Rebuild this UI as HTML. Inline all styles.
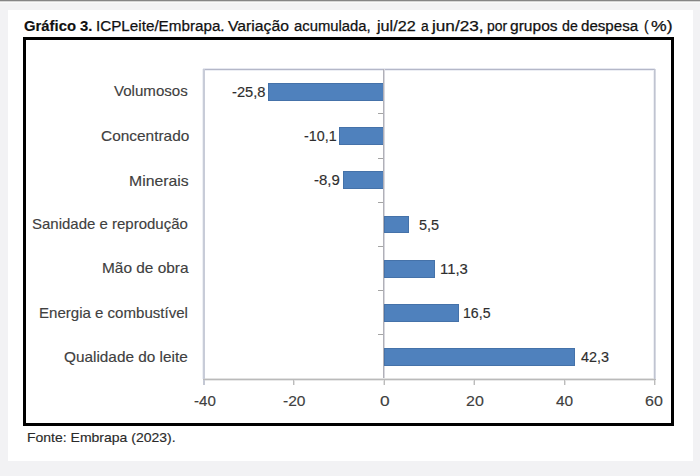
<!DOCTYPE html>
<html><head><meta charset="utf-8"><style>
html,body{margin:0;padding:0;}
body{width:700px;height:476px;position:relative;overflow:hidden;background:#f2f2f4;font-family:"Liberation Sans", sans-serif;}
div{position:absolute;white-space:pre;line-height:1;transform-origin:0 0;-webkit-text-stroke:0.15px currentColor;}
.bar{background:#4f81bd;box-sizing:border-box;border:1px solid #4572a9;}
.tk{background:#8a8a8a;}
</style></head><body>
<div style="left:0;top:0;width:700px;height:1px;background:#858585"></div>
<div style="left:0;top:1px;width:700px;height:1px;background:#d6d6d6"></div>
<div style="left:0;top:2px;width:700px;height:1px;background:#f9f9f9"></div>
<div style="left:8px;top:10px;width:685px;height:451px;background:#fff"></div>
<div style="left:23px;top:37px;width:651px;height:389px;border:3px solid #000;box-sizing:border-box"></div>

<div style="left:203px;top:68px;width:452px;height:1px;background:#e6e8f0"></div>
<div style="left:203px;top:69px;width:452px;height:1px;background:#b4b7c8"></div>
<div style="left:205px;top:70px;width:449px;height:1px;background:#eceef4"></div>
<div style="left:203px;top:69px;width:2px;height:310px;background:#c8ccd8"></div>
<div style="left:202px;top:69px;width:1px;height:310px;background:#eef0f4"></div>
<div style="left:654px;top:69px;width:1px;height:310px;background:#c0c4d0"></div>
<div style="left:655px;top:69px;width:1px;height:310px;background:#d6d9e2"></div>
<div style="left:653px;top:70px;width:1px;height:309px;background:#eef0f5"></div>

<div style="left:384px;top:69px;width:1px;height:310px;background:#d8d8de"></div>
<div class="bar" style="left:267.78px;top:82.95px;width:116.42px;height:17.8px"></div><div class="bar" style="left:338.62px;top:127.14px;width:45.58px;height:17.8px"></div><div class="bar" style="left:343.40px;top:171.33px;width:40.80px;height:17.8px"></div><div class="bar" style="left:384.20px;top:215.52px;width:24.82px;height:17.8px"></div><div class="bar" style="left:384.20px;top:259.71px;width:50.99px;height:17.8px"></div><div class="bar" style="left:384.20px;top:303.90px;width:74.46px;height:17.8px"></div><div class="bar" style="left:384.20px;top:348.09px;width:190.88px;height:17.8px"></div>

<div style="left:383px;top:69px;width:1px;height:310px;background:#b0b0b8"></div>
<div style="left:205px;top:378px;width:449px;height:1px;background:#e2e2e2"></div>
<div style="left:203px;top:379px;width:453px;height:1px;background:#bababa"></div>
<div style="left:205px;top:380px;width:449px;height:1px;background:#e8e8e8"></div>

<div style="left:293px;top:380px;width:1px;height:5px;background:#bcbcbc"></div><div style="left:294px;top:380px;width:1px;height:5px;background:#e2e2e2"></div><div style="left:384px;top:380px;width:1px;height:5px;background:#bcbcbc"></div><div style="left:383px;top:380px;width:1px;height:5px;background:#e2e2e2"></div><div style="left:474px;top:380px;width:1px;height:5px;background:#bcbcbc"></div><div style="left:473px;top:380px;width:1px;height:5px;background:#e2e2e2"></div><div style="left:564px;top:380px;width:1px;height:5px;background:#bcbcbc"></div><div style="left:565px;top:380px;width:1px;height:5px;background:#e2e2e2"></div><div style="left:654px;top:380px;width:1px;height:5px;background:#bcbcbc"></div><div style="left:655px;top:380px;width:1px;height:5px;background:#e2e2e2"></div><div style="left:203px;top:380px;width:2px;height:5px;background:#c4c8d4"></div><div style="left:378px;top:113px;width:5px;height:1px;background:#a4a4a4"></div><div style="left:378px;top:158px;width:5px;height:1px;background:#a4a4a4"></div><div style="left:378px;top:202px;width:5px;height:1px;background:#a4a4a4"></div><div style="left:378px;top:246px;width:5px;height:1px;background:#a4a4a4"></div><div style="left:378px;top:290px;width:5px;height:1px;background:#a4a4a4"></div><div style="left:378px;top:334px;width:5px;height:1px;background:#a4a4a4"></div>
<div style="position:absolute;left:23.81px;top:18.30px;font-size:15.3px;font-weight:700;color:#111;transform:scaleX(0.9702);">Gráfico 3.</div>
<div style="position:absolute;left:95.83px;top:18.30px;font-size:15.3px;font-weight:400;color:#111;transform:scaleX(0.9950);-webkit-text-stroke:0.25px #111;">ICPLeite/Embrapa.</div>
<div style="position:absolute;left:228.34px;top:18.30px;font-size:15.3px;font-weight:400;color:#111;transform:scaleX(1.0283);-webkit-text-stroke:0.25px #111;">Variação</div>
<div style="position:absolute;left:293.71px;top:18.30px;font-size:15.3px;font-weight:400;color:#111;transform:scaleX(0.9687);-webkit-text-stroke:0.25px #111;">acumulada,</div>
<div style="position:absolute;left:376.72px;top:18.30px;font-size:15.3px;font-weight:400;color:#111;transform:scaleX(1.0579);-webkit-text-stroke:0.25px #111;">jul/22</div>
<div style="position:absolute;left:420.72px;top:18.30px;font-size:15.3px;font-weight:400;color:#111;transform:scaleX(0.9000);-webkit-text-stroke:0.25px #111;">a</div>
<div style="position:absolute;left:432.04px;top:18.30px;font-size:15.3px;font-weight:400;color:#111;transform:scaleX(1.1220);-webkit-text-stroke:0.25px #111;">jun/23,</div>
<div style="position:absolute;left:486.72px;top:18.30px;font-size:15.3px;font-weight:400;color:#111;transform:scaleX(0.9131);-webkit-text-stroke:0.25px #111;">por</div>
<div style="position:absolute;left:510.08px;top:18.30px;font-size:15.3px;font-weight:400;color:#111;transform:scaleX(1.0177);-webkit-text-stroke:0.25px #111;">grupos</div>
<div style="position:absolute;left:561.93px;top:18.30px;font-size:15.3px;font-weight:400;color:#111;transform:scaleX(0.9265);-webkit-text-stroke:0.25px #111;">de</div>
<div style="position:absolute;left:581.20px;top:18.30px;font-size:15.3px;font-weight:400;color:#111;transform:scaleX(0.9874);-webkit-text-stroke:0.25px #111;">despesa</div>
<div style="position:absolute;left:643.53px;top:18.30px;font-size:15.3px;font-weight:400;color:#111;transform:scaleX(0.9000);-webkit-text-stroke:0.25px #111;">(</div>
<div style="position:absolute;left:651.09px;top:18.30px;font-size:15.3px;font-weight:400;color:#111;transform:scaleX(1.1500);-webkit-text-stroke:0.25px #111;">%)</div>
<div style="position:absolute;left:114.05px;top:82.75px;font-size:15px;font-weight:400;color:#404040;transform:scaleX(1.0048);">Volumosos</div>
<div style="position:absolute;left:100.73px;top:128.39px;font-size:15px;font-weight:400;color:#404040;transform:scaleX(1.0278);">Concentrado</div>
<div style="position:absolute;left:128.84px;top:172.68px;font-size:15px;font-weight:400;color:#404040;transform:scaleX(1.0510);">Minerais</div>
<div style="position:absolute;left:32.05px;top:216.27px;font-size:15px;font-weight:400;color:#404040;transform:scaleX(0.9994);">Sanidade e reprodução</div>
<div style="position:absolute;left:101.87px;top:260.41px;font-size:15px;font-weight:400;color:#404040;transform:scaleX(1.0271);">Mão de obra</div>
<div style="position:absolute;left:39.30px;top:304.60px;font-size:15px;font-weight:400;color:#404040;transform:scaleX(1.0031);">Energia e combustível</div>
<div style="position:absolute;left:64.33px;top:348.69px;font-size:15px;font-weight:400;color:#404040;transform:scaleX(1.0230);">Qualidade do leite</div>
<div style="position:absolute;left:232.31px;top:84.95px;font-size:14px;font-weight:400;color:#2e2e2e;transform:scaleX(1.0470);">-25,8</div>
<div style="position:absolute;left:303.53px;top:129.14px;font-size:14px;font-weight:400;color:#2e2e2e;transform:scaleX(1.0209);">-10,1</div>
<div style="position:absolute;left:313.50px;top:173.33px;font-size:14px;font-weight:400;color:#2e2e2e;transform:scaleX(1.0671);">-8,9</div>
<div style="position:absolute;left:418.82px;top:217.52px;font-size:14px;font-weight:400;color:#2e2e2e;transform:scaleX(1.0305);">5,5</div>
<div style="position:absolute;left:439.81px;top:261.71px;font-size:14px;font-weight:400;color:#2e2e2e;transform:scaleX(1.0612);">11,3</div>
<div style="position:absolute;left:463.27px;top:305.90px;font-size:14px;font-weight:400;color:#2e2e2e;transform:scaleX(1.0086);">16,5</div>
<div style="position:absolute;left:581.41px;top:350.09px;font-size:14px;font-weight:400;color:#2e2e2e;transform:scaleX(1.0296);">42,3</div>
<div style="position:absolute;left:193.50px;top:393.15px;font-size:15px;font-weight:400;color:#404040;transform:scaleX(1.0073);">-40</div>
<div style="position:absolute;left:283.18px;top:393.15px;font-size:15px;font-weight:400;color:#404040;transform:scaleX(1.0365);">-20</div>
<div style="position:absolute;left:379.91px;top:393.15px;font-size:15px;font-weight:400;color:#404040;transform:scaleX(1.1528);">0</div>
<div style="position:absolute;left:465.80px;top:393.15px;font-size:15px;font-weight:400;color:#404040;transform:scaleX(1.0654);">20</div>
<div style="position:absolute;left:556.19px;top:393.15px;font-size:15px;font-weight:400;color:#404040;transform:scaleX(1.0286);">40</div>
<div style="position:absolute;left:645.40px;top:393.15px;font-size:15px;font-weight:400;color:#404040;transform:scaleX(1.0654);">60</div>
<div style="position:absolute;left:26.78px;top:430.80px;font-size:13.3px;font-weight:400;color:#2a2a2a;transform:scaleX(1.0526);">Fonte: Embrapa (2023).</div>
</body></html>
